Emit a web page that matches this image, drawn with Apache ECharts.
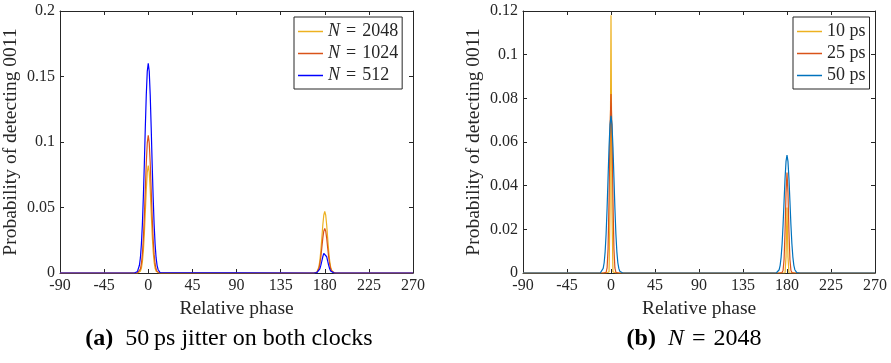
<!DOCTYPE html>
<html>
<head>
<meta charset="utf-8">
<script src="https://cdn.jsdelivr.net/npm/echarts@6/dist/echarts.min.js"></script>
<style>
  html, body { margin: 0; padding: 0; background: #fff; }
  #chart { width: 891px; height: 363px; }
</style>
</head>
<body>
<div id="chart"></div>
<script>
// ---------- DATA ----------
const phaseMin = -90;
const phaseMax = 270;
const phaseTicks = [-90, -45, 0, 45, 90, 135, 180, 225, 270];
const peakCenters = [0, 180];
// sample offsets (degrees) around each peak
const offsets = [-14,-13,-12,-11,-10,-9,-8,-7,-6,-5,-4,-3,-2,-1,0,1,2,3,4,5,6,7,8,9,10,11,12,13,14];

// Panel (a): 50 ps jitter on both clocks
const namesA = ['N = 2048', 'N = 1024', 'N = 512'];
const n2048_p0   = [0,0,0,0,0.0001,0.0005,0.0014,0.0036,0.0083,0.0166,0.0295,0.0462,0.0636,0.0769,0.082,0.0769,0.0636,0.0462,0.0295,0.0166,0.0083,0.0036,0.0014,0.0005,0.0001,0,0,0,0];
const n2048_p180 = [0,0,0,0,0.0001,0.0003,0.0008,0.0021,0.0047,0.0095,0.0169,0.0265,0.0364,0.0441,0.047,0.0441,0.0364,0.0265,0.0169,0.0095,0.0047,0.0021,0.0008,0.0003,0.0001,0,0,0,0];
const n1024_p0   = [0,0,0,0.0001,0.0004,0.0012,0.0030,0.0069,0.0142,0.0262,0.0432,0.0637,0.0841,0.0993,0.105,0.0993,0.0841,0.0637,0.0432,0.0262,0.0142,0.0069,0.0030,0.0012,0.0004,0.0001,0,0,0];
const n1024_p180 = [0,0,0,0,0.0001,0.0002,0.0006,0.0015,0.0034,0.0069,0.0122,0.0191,0.0264,0.0319,0.034,0.0319,0.0264,0.0191,0.0122,0.0069,0.0034,0.0015,0.0006,0.0002,0.0001,0,0,0,0];
const n512_p0    = [0,0.0001,0.0004,0.0012,0.0027,0.0059,0.0117,0.022,0.037,0.058,0.083,0.111,0.136,0.154,0.160,0.154,0.136,0.111,0.083,0.058,0.037,0.022,0.0117,0.0059,0.0027,0.0012,0.0004,0.0001,0];
const n512_p180  = [0,0,0,0,0,0.0001,0.0003,0.0007,0.0016,0.0032,0.0058,0.0090,0.0124,0.0150,0.016,0.0150,0.0124,0.0090,0.0058,0.0032,0.0016,0.0007,0.0003,0.0001,0,0,0,0,0];
const yTicksA = [0, 0.05, 0.1, 0.15, 0.2];

// Panel (b): N = 2048
const namesB = ['10 ps', '25 ps', '50 ps'];
const j10_p0   = [0,0,0,0,0,0,0,0,0,0,0,0,0.0005,0.0294,0.118,0.0294,0.0005,0,0,0,0,0,0,0,0,0,0,0,0];
const j10_p180 = [0,0,0,0,0,0,0,0,0,0,0,0,0.0001,0.0075,0.030,0.0075,0.0001,0,0,0,0,0,0,0,0,0,0,0,0];
const j25_p0   = [0,0,0,0,0,0,0,0,0,0.0003,0.0023,0.0111,0.0337,0.0657,0.082,0.0657,0.0337,0.0111,0.0023,0.0003,0,0,0,0,0,0,0,0,0];
const j25_p180 = [0,0,0,0,0,0,0,0,0,0.0002,0.0013,0.0062,0.0189,0.0368,0.046,0.0368,0.0189,0.0062,0.0013,0.0002,0,0,0,0,0,0,0,0,0];
const j50_p0   = [0,0,0,0,0.0003,0.0008,0.0021,0.0047,0.0097,0.0179,0.0296,0.0437,0.0577,0.0681,0.072,0.0681,0.0577,0.0437,0.0296,0.0179,0.0097,0.0047,0.0021,0.0008,0.0003,0,0,0,0];
const j50_p180 = [0,0,0,0,0.0002,0.0006,0.0015,0.0035,0.0073,0.0134,0.0222,0.0328,0.0433,0.0511,0.054,0.0511,0.0433,0.0328,0.0222,0.0134,0.0073,0.0035,0.0015,0.0006,0.0002,0,0,0,0];
const yTicksB = [0, 0.02, 0.04, 0.06, 0.08, 0.1, 0.12];

const captionA = '{b|(a)}  50\u2009ps jitter on both clocks';
const captionB = '{b|(b)}  {i|N}\u2004=\u20042048';
const xTitle = 'Relative phase';
const yTitle = 'Probability of detecting 0011';

// ---------- BUILD ----------
function build(p0, p180) {
  const pts = [[phaseMin, 0]];
  offsets.forEach((d, i) => pts.push([peakCenters[0] + d, p0[i]]));
  offsets.forEach((d, i) => pts.push([peakCenters[1] + d, p180[i]]));
  pts.push([phaseMax, 0]);
  return pts;
}

const FONT = "'Liberation Serif', 'DejaVu Serif', serif";
const AX = '#262626';
const colorsA = ['#EDB120', '#D95319', '#0000FF'];
const colorsB = ['#EDB120', '#D95319', '#0072BD'];

const chart = echarts.init(document.getElementById('chart'), null, { renderer: 'canvas' });

function fmtY(v) { return String(Math.round(v * 1000) / 1000); }

function xAxes(grid) {
  return [
    { type: 'value', gridIndex: grid, position: 'bottom', min: phaseMin, max: phaseMax, interval: 45,
      axisLine: { show: true, onZero: false, lineStyle: { color: AX, width: 1 } },
      axisTick: { show: true, inside: true, length: 4, lineStyle: { color: AX } },
      axisLabel: { show: true, margin: 5, color: AX, fontFamily: FONT, fontSize: 16 },
      splitLine: { show: false },
      name: xTitle, nameLocation: 'middle', nameGap: 24,
      nameTextStyle: { color: AX, fontFamily: FONT, fontSize: 19.5 } },
    { type: 'value', gridIndex: grid, position: 'top', min: phaseMin, max: phaseMax, interval: 45,
      axisLine: { show: true, onZero: false, lineStyle: { color: AX, width: 1 } },
      axisTick: { show: true, inside: true, length: 4, lineStyle: { color: AX } },
      axisLabel: { show: false }, splitLine: { show: false } }
  ];
}
function yAxes(grid, max, interval) {
  return [
    { type: 'value', gridIndex: grid, position: 'left', min: 0, max: max, interval: interval,
      axisLine: { show: true, onZero: false, lineStyle: { color: AX, width: 1 } },
      axisTick: { show: true, inside: true, length: 4, lineStyle: { color: AX } },
      axisLabel: { show: true, margin: 5, color: AX, fontFamily: FONT, fontSize: 16, formatter: fmtY },
      splitLine: { show: false },
      name: yTitle, nameLocation: 'middle', nameGap: 39,
      nameTextStyle: { color: AX, fontFamily: FONT, fontSize: 19.5 } },
    { type: 'value', gridIndex: grid, position: 'right', min: 0, max: max, interval: interval,
      axisLine: { show: true, onZero: false, lineStyle: { color: AX, width: 1 } },
      axisTick: { show: true, inside: true, length: 4, lineStyle: { color: AX } },
      axisLabel: { show: false }, splitLine: { show: false } }
  ];
}

function mkSeries(name, data, color, xi, yi) {
  return { type: 'line', name: name, data: data, xAxisIndex: xi, yAxisIndex: yi,
    symbol: 'none', showSymbol: false, smooth: false, animation: false,
    lineStyle: { color: color, width: 1.2 }, itemStyle: { color: color } };
}

const seriesA = [build(n2048_p0, n2048_p180), build(n1024_p0, n1024_p180), build(n512_p0, n512_p180)];
const seriesB = [build(j10_p0, j10_p180), build(j25_p0, j25_p180), build(j50_p0, j50_p180)];

const legendBase = {
  orient: 'vertical', icon: 'rect', itemWidth: 25, itemHeight: 1.5, itemGap: 3,
  backgroundColor: '#fff', borderColor: AX, borderWidth: 1,
  textStyle: { color: AX, fontFamily: FONT, fontSize: 18, lineHeight: 19,
    rich: { i: { fontStyle: 'italic', fontFamily: FONT, fontSize: 18, lineHeight: 19, color: AX } } },
  selectedMode: false
};

const option = {
  animation: false,
  backgroundColor: '#fff',
  grid: [
    { left: 60, right: 478, top: 11, bottom: 90, containLabel: false },
    { left: 523, right: 16, top: 11, bottom: 90, containLabel: false }
  ],
  xAxis: [...xAxes(0), ...xAxes(1)],
  yAxis: [...yAxes(0, 0.2, 0.05), ...yAxes(1, 0.12, 0.02)],
  legend: [
    Object.assign({}, legendBase, { data: namesA, left: 294, top: 17, padding: [5, 4, 4, 4],
      formatter: n => n.replace('N = ', '{i|N}\u2004=\u2004') }),
    Object.assign({}, legendBase, { data: namesB, left: 793, top: 17, padding: [5, 4, 4, 4] })
  ],
  series: [
    ...namesA.map((n, i) => mkSeries(n, seriesA[i], colorsA[i], 0, 0)),
    ...namesB.map((n, i) => mkSeries(n, seriesB[i], colorsB[i], 2, 2))
  ],
  graphic: [
    { type: 'text', x: 229, y: 339, style: { text: captionA, align: 'center', verticalAlign: 'middle',
      fontFamily: FONT, fontSize: 24, fill: '#000',
      rich: { b: { fontWeight: 'bold', fontFamily: FONT, fontSize: 24, fill: '#000' } } } },
    { type: 'text', x: 694, y: 339, style: { text: captionB, align: 'center', verticalAlign: 'middle',
      fontFamily: FONT, fontSize: 24, fill: '#000',
      rich: { b: { fontWeight: 'bold', fontFamily: FONT, fontSize: 24, fill: '#000' },
              i: { fontStyle: 'italic', fontFamily: FONT, fontSize: 24, fill: '#000' } } } }
  ]
};
chart.setOption(option);
</script>
</body>
</html>
